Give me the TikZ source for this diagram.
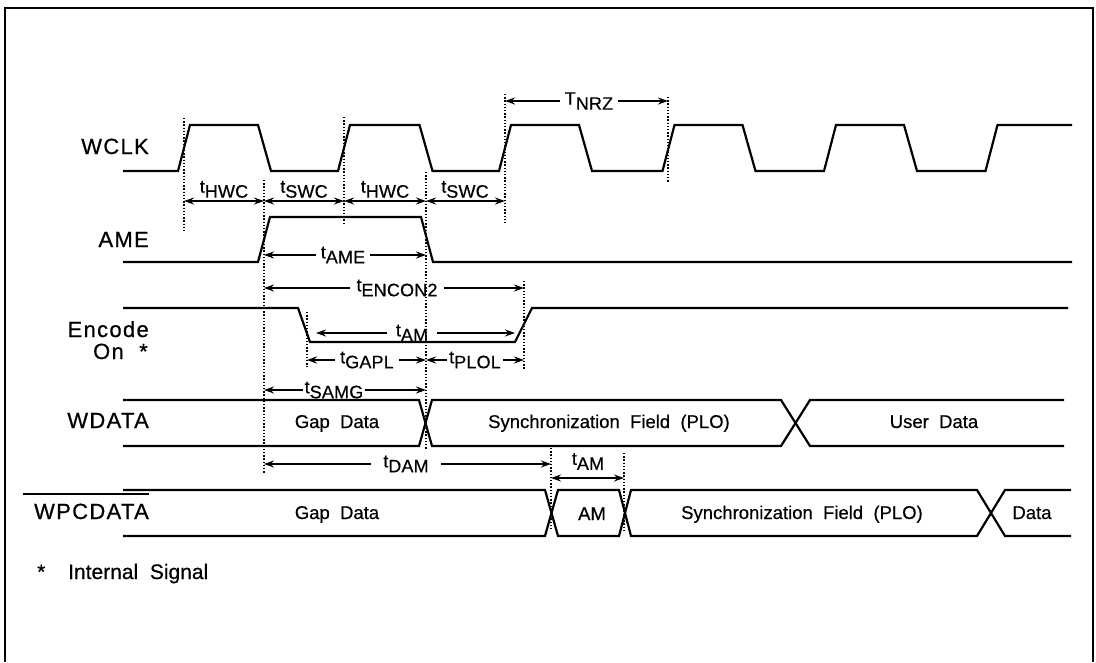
\documentclass[tikz,border=0pt]{standalone}
\usepackage{fontspec}
\setmainfont{Liberation Sans}
\newfontfamily\sigf[LetterSpace=6,FakeBold=0.6]{Liberation Sans}
\newfontfamily\timf[LetterSpace=1,FakeBold=0.5]{Liberation Sans}
\newfontfamily\datf[WordSpace=2.5,FakeBold=0.5]{Liberation Sans}
\newfontfamily\notef[WordSpace=2,FakeBold=0.5]{Liberation Sans}
\usetikzlibrary{arrows.meta}
\newcommand\tlab[2]{#1\raisebox{-5pt}{#2}}
\begin{document}
\begin{tikzpicture}[x=1pt,y=-1pt,
  sig/.style={line width=2.2pt, line join=miter},
  guide/.style={line width=1.1pt, dash pattern=on 1.4pt off 1.8pt},
  dimboth/.style={line width=1.3pt, {Stealth[length=10pt,width=7pt]}-{Stealth[length=10pt,width=7pt]}},
  dimto/.style={line width=1.3pt, -{Stealth[length=10pt,width=7pt]}},
  siglab/.style={font=\sigf\fontsize{22}{26}\selectfont, inner sep=0pt},
  tlabel/.style={font=\timf\fontsize{18}{21}\selectfont, inner xsep=5pt, inner ysep=0pt},
  datalab/.style={font=\datf\fontsize{18.5}{22}\selectfont, inner sep=0pt, anchor=base},
  notelab/.style={font=\notef\fontsize{21}{24}\selectfont, inner sep=0pt},
]
\useasboundingbox (0,0) rectangle (1096,662);
% frame
\draw[line width=1.8pt] (5,662) -- (5,8) -- (1093,8) -- (1093,662);

% guide lines
\draw[guide] (184,118) -- (184,233);
\draw[guide] (264,180) -- (264,473);
\draw[guide] (344,117) -- (344,223);
\draw[guide] (426,172) -- (426,449);
\draw[guide] (505,94) -- (505,223);
\draw[guide] (668,97) -- (668,183);
\draw[guide] (524,281) -- (524,370);
\draw[guide] (307,312) -- (307,367);
\draw[guide] (551,448) -- (551,531);
\draw[guide] (624,453) -- (624,531);

% WCLK
\draw[sig] (123,171) -- (178,171) -- (190,125) -- (258,125) -- (271,171)
  -- (338,171) -- (350,125) -- (419.5,125) -- (432.5,171)
  -- (499,171) -- (511,125) -- (579,125) -- (592,171)
  -- (662.5,171) -- (674.5,125) -- (742.5,125) -- (755.5,171)
  -- (824,171) -- (836,125) -- (904,125) -- (917,171)
  -- (985.5,171) -- (997.5,125) -- (1072,125);
% AME
\draw[sig] (123,262) -- (258,262) -- (270,217) -- (421,217) -- (433,262) -- (1072,262);
% Encode On
\draw[sig] (123,308) -- (298,308) -- (310,342) -- (515,342) -- (532,308) -- (1068,308);
% WDATA
\draw[sig] (123,400) -- (419,400) -- (432,446) -- (781,446) -- (810,400) -- (1064,400);
\draw[sig] (123,446) -- (419,446) -- (432,400) -- (781,400) -- (810,446) -- (1064,446);
% WPCDATA
\draw[sig] (123,490) -- (545,490) -- (558,536) -- (619,536) -- (631,490) -- (977,490) -- (1005,536) -- (1071,536);
\draw[sig] (123,536) -- (545,536) -- (558,490) -- (619,490) -- (631,536) -- (977,536) -- (1005,490) -- (1071,490);

% signal names
\node[siglab, anchor=base east] (nwclk) at (149,154) {WCLK};
\node[siglab, anchor=base east] (name) at (149,247) {AME};
\node[siglab, anchor=base east] (nenc) at (149,337) {Encode};
\node[siglab, anchor=base east] (non) at (124,359) {On};
\node[siglab, anchor=base west] (nstar) at (139,359) {*};
\node[siglab, anchor=base east] (nwdata) at (149,428) {WDATA};
\node[siglab, anchor=base east] (nwpc) at (149,519) {WPCDATA};
\coordinate (ovl) at (23,494);
\coordinate (ovr) at (149,494);
\draw[line width=1.3pt] (ovl) -- (ovr);

% data labels
\node[datalab] (gd1) at (337,428) {Gap Data};
\node[datalab] (sf1) at (609,428) {Synchronization Field (PLO)};
\node[datalab] (ud) at (934,428) {User Data};
\node[datalab] (gd2) at (337,519) {Gap Data};
\node[datalab] (amd) at (592,520) {AM};
\node[datalab] (sf2) at (802,519) {Synchronization Field (PLO)};
\node[datalab] (dd) at (1032,519) {Data};

% clock high/low times
\coordinate (c1) at (184,201);
\coordinate (c2) at (264,201);
\coordinate (c3) at (344,201);
\coordinate (c4) at (426,201);
\coordinate (c5) at (505,201);
\draw[dimboth] (c1) -- (c2);
\draw[dimboth] (c2) -- (c3);
\draw[dimboth] (c3) -- (c4);
\draw[dimboth] (c4) -- (c5);
\node[tlabel, anchor=south] (lh1) at (224,198) {\tlab{t}{HWC}};
\node[tlabel, anchor=south] (ls1) at (304,198) {\tlab{t}{SWC}};
\node[tlabel, anchor=south] (lh2) at (385,198) {\tlab{t}{HWC}};
\node[tlabel, anchor=south] (ls2) at (465,198) {\tlab{t}{SWC}};

% TNRZ
\node[tlabel] (lnrz) at (589,101) {\tlab{T}{NRZ}};
\coordinate (nrzA) at (505,101);
\coordinate (nrzB) at (668,101);
\draw[dimto] (lnrz) -- (nrzA);
\draw[dimto] (lnrz) -- (nrzB);

% tAME
\node[tlabel] (lame) at (343,255) {\tlab{t}{AME}};
\coordinate (ameA) at (264,255);
\coordinate (ameB) at (426,255);
\draw[dimto] (lame) -- (ameA);
\draw[dimto] (lame) -- (ameB);

% tENCON2
\node[tlabel, inner xsep=6pt] (lenc) at (397,288) {\tlab{t}{ENCON2}};
\coordinate (encA) at (264,288);
\coordinate (encB) at (524,288);
\draw[dimto] (lenc) -- (encA);
\draw[dimto] (lenc) -- (encB);

% tAM (Encode On low)
\node[tlabel, inner xsep=9pt] (lam1) at (412,333) {\tlab{t}{AM}};
\coordinate (am1A) at (316,333);
\coordinate (am1B) at (515,333);
\draw[dimto] (lam1) -- (am1A);
\draw[dimto] (lam1) -- (am1B);

% tGAPL / tPLOL
\node[tlabel, inner xsep=5pt] (lgapl) at (367,360) {\tlab{t}{GAPL}};
\coordinate (gaplA) at (307,360);
\coordinate (gaplB) at (426,360);
\draw[dimto] (lgapl) -- (gaplA);
\draw[dimto] (lgapl) -- (gaplB);
\node[tlabel, inner xsep=2pt] (lplol) at (475,360) {\tlab{t}{PLOL}};
\coordinate (plolA) at (426,360);
\coordinate (plolB) at (524,360);
\draw[dimto] (lplol) -- (plolA);
\draw[dimto] (lplol) -- (plolB);

% tSAMG
\node[tlabel, inner xsep=2pt] (lsamg) at (334,390) {\tlab{t}{SAMG}};
\coordinate (samgA) at (264,390);
\coordinate (samgB) at (426,390);
\draw[dimto] (lsamg) -- (samgA);
\draw[dimto] (lsamg) -- (samgB);

% tDAM
\node[tlabel, inner xsep=12pt] (ldam) at (406,464) {\tlab{t}{DAM}};
\coordinate (damA) at (264,464);
\coordinate (damB) at (551,464);
\draw[dimto] (ldam) -- (damA);
\draw[dimto] (ldam) -- (damB);

% tAM (WPCDATA)
\coordinate (am2A) at (551,478);
\coordinate (am2B) at (624,478);
\draw[dimboth] (am2A) -- (am2B);
\node[tlabel, anchor=south] (lam2) at (588,470) {\tlab{t}{AM}};

% note
\node[notelab, anchor=base west] (nst) at (37,579) {*};
\node[notelab, anchor=base west] (note) at (68,579) {Internal Signal};
\end{tikzpicture}
\end{document}
